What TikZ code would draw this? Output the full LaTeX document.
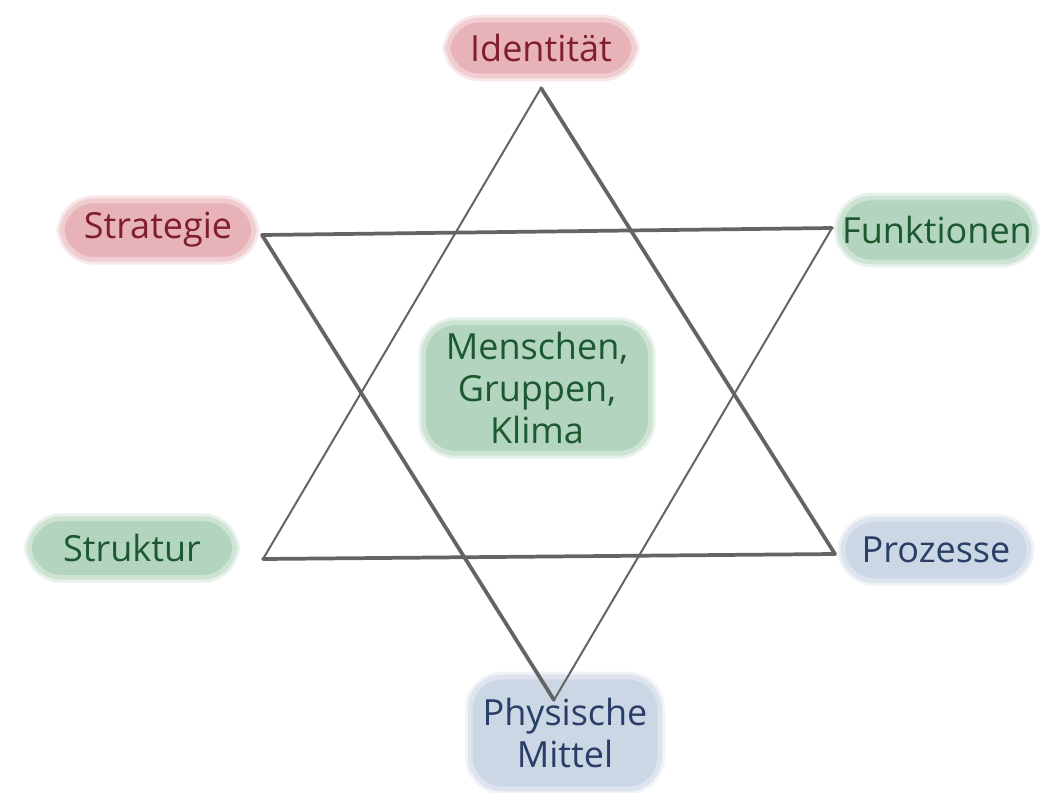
\documentclass[tikz,border=0pt]{standalone}
\usepackage{fontspec}
\setmainfont{Open Sans}
\usepackage{tikz}
\usetikzlibrary{positioning, calc}
\definecolor{redfill}{RGB}{222,150,158}
\definecolor{redtext}{RGB}{128,30,42}
\definecolor{greenfill}{RGB}{150,196,166}
\definecolor{greentext}{RGB}{28,88,48}
\definecolor{bluefill}{RGB}{184,199,220}
\definecolor{bluetext}{RGB}{40,62,102}
\definecolor{starline}{RGB}{100,100,100}
\tikzset{
    blob/.style={rectangle, rounded corners=24pt, fill=#1fill!72, draw=#1fill!48, line width=3.5pt,
        preaction={draw=#1fill!22, line width=8pt},
        text=#1text, align=center, font=\fontsize{27}{31.5}\selectfont, inner sep=2pt},
    edge thick/.style={draw=starline, line width=2.8pt, line cap=round},
    edge thin/.style={draw=starline, line width=1.5pt, line cap=round}
}
\begin{document}
\begin{tikzpicture}[x=0.75pt, y=-0.75pt]
            \useasboundingbox (0,0) rectangle (1058,793);
            \node[blob=red, minimum width=140pt, minimum height=42pt] (ident) at (541,48) {Identität};
            \node[blob=red, minimum width=144pt, minimum height=44pt] (strat) at (158,230) {Strategie};
            \node[blob=green, minimum width=124pt, minimum height=48pt] (funk) at (937,230) {Funktionen};
            \node[blob=green, minimum width=154pt, minimum height=44pt] (strukt) at (132,548) {Struktur};
            \node[blob=blue, minimum width=140pt, minimum height=46pt] (proz) at (936,550) {Prozesse};
            \node[blob=blue, minimum width=142pt, minimum height=84pt] (mittel) at (565,733) {Physische\\Mittel};
            \node[blob=green, minimum width=170pt, minimum height=98pt] (mensch) at (537,388) {Menschen,\\Gruppen,\\Klima};

            % corners of the star
            \coordinate (top) at (541,88);
            \coordinate (upleft) at (262,235);
            \coordinate (upright) at (832,228);
            \coordinate (lowleft) at (263,559);
            \coordinate (lowright) at (835,554);
            \coordinate (bottom) at (554,700);

            \path[edge thin] (top) -- (lowleft);
            \path[edge thick] (top) -- (lowright);
            \path[edge thick] (lowleft) -- (lowright);
            \path[edge thick] (upleft) -- (upright);
            \path[edge thick] (upleft) -- (bottom);
            \path[edge thin] (upright) -- (bottom);
        \end{tikzpicture}
\end{document}
